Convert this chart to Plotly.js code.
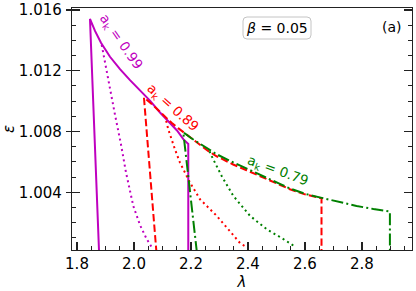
<!DOCTYPE html>
<html><head><meta charset="utf-8">
<script src="https://cdn.plot.ly/plotly-3.0.1.min.js"></script>
<style>html,body{margin:0;padding:0;background:#fff;} #chart{width:416px;height:291px;}</style>
</head><body><div id="chart"></div>
<script>
// ---- data ----
const magentaSolidLam = [1.8776, 1.8456, 1.8632, 1.8842, 1.9158, 1.9509, 1.9860, 2.0211, 2.0561, 2.0912, 2.1263, 2.1509, 2.1737, 2.1905, 2.1905];
const magentaSolidEps = [1.0000, 1.01541, 1.01462, 1.01384, 1.01292, 1.01210, 1.01138, 1.01069, 1.01003, 1.00925, 1.00859, 1.00807, 1.00748, 1.00718, 1.0000];
const magentaDotLam = [1.8867, 1.9098, 1.9333, 1.9544, 1.9719, 1.9975, 2.0211, 2.0446, 2.0621];
const magentaDotEps = [1.01370, 1.01130, 1.00911, 1.00715, 1.00531, 1.00310, 1.00184, 1.00092, 1.00038];

const redDashLam = [2.079, 2.035, 2.060, 2.085, 2.110, 2.132, 2.155, 2.179, 2.205, 2.232, 2.260, 2.290, 2.348, 2.395, 2.466, 2.512, 2.547, 2.600, 2.658, 2.658];
const redDashEps = [1.0000, 1.01023, 1.00985, 1.00940, 1.00895, 1.00857, 1.00822, 1.00788, 1.00750, 1.00712, 1.00672, 1.00637, 1.00583, 1.00545, 1.00489, 1.00450, 1.00420, 1.00386, 1.00360, 1.0000];
const redDotLam = [2.113, 2.1204, 2.1439, 2.1614, 2.1965, 2.2316, 2.2902, 2.3484, 2.3719, 2.3954];
const redDotEps = [1.00870, 1.00813, 1.00682, 1.00595, 1.00464, 1.00354, 1.00245, 1.00113, 1.00066, 1.00038];

const greenDashDotLam = [2.221, 2.173, 2.200, 2.232, 2.262, 2.290, 2.348, 2.395, 2.466, 2.512, 2.547, 2.600, 2.659, 2.720, 2.781, 2.840, 2.898, 2.898];
const greenDashDotEps = [1.0000, 1.00795, 1.00757, 1.00718, 1.00682, 1.00650, 1.00597, 1.00555, 1.00497, 1.00455, 1.00425, 1.00390, 1.00363, 1.00335, 1.00310, 1.00290, 1.00273, 1.0000];
const greenDotLam = [2.265, 2.2725, 2.3077, 2.3485, 2.407, 2.4656, 2.524, 2.559, 2.567];
const greenDotEps = [1.00670, 1.00638, 1.00507, 1.00376, 1.00245, 1.00157, 1.00092, 1.00048, 1.00040];

const xTickVals = [1.8, 2.0, 2.2, 2.4, 2.6, 2.8];
const xTickText = ['1.8', '2.0', '2.2', '2.4', '2.6', '2.8'];
const yTickVals = [1.004, 1.008, 1.012, 1.016];
const yTickText = ['1.004', '1.008', '1.012', '1.016'];
const curveLabels = ['a<sub>k</sub> = 0.99', 'a<sub>k</sub> = 0.89', 'a<sub>k</sub> = 0.79'];
const betaLabel = '<i>β</i> = 0.05';
const panelLabel = '(a)';

// ---- styling ----
const MAG = '#bf00bf', RED = '#ff0000', GRN = '#008000';
const FONT = 'DejaVu Sans, sans-serif';
const W = 416, H = 291, M = {l: 72, r: 4, t: 8, b: 41};
const PW = W - M.l - M.r, PH = H - M.t - M.b;
const xRange = [1.7825, 2.9755], yRange = [1.00020, 1.01613];

function line(x, y, color, dash) {
  return {x: x, y: y, type: 'scatter', mode: 'lines', hoverinfo: 'skip', showlegend: false,
          line: {color: color, width: 2, dash: dash}};
}
const DASH = '7.4px,3.2px', DASHDOT = '12px,3.2px,2px,3.2px', DOT = '2px,3.3px';

const traces = [
  line(magentaSolidLam, magentaSolidEps, MAG, 'solid'),
  line(magentaDotLam, magentaDotEps, MAG, DOT),
  line(redDashLam, redDashEps, RED, DASH),
  line(redDotLam, redDotEps, RED, DOT),
  line(greenDashDotLam, greenDashDotEps, GRN, DASHDOT),
  line(greenDotLam, greenDotEps, GRN, DOT),
  {x: [], y: [], yaxis: 'y2', type: 'scatter', mode: 'lines', showlegend: false, hoverinfo: 'skip'}
];

// rounded box for beta label (paper coords)
function px2paperX(p) { return (p - M.l) / PW; }
function px2paperY(p) { return (M.t + PH - p) / PH; }
const bx0 = px2paperX(243), bx1 = px2paperX(311), by0 = px2paperY(39), by1 = px2paperY(17);
const rx = 4 / PW, ry = 4 / PH;
const boxPath = `M ${bx0+rx},${by0} L ${bx1-rx},${by0} Q ${bx1},${by0} ${bx1},${by0+ry} L ${bx1},${by1-ry} Q ${bx1},${by1} ${bx1-rx},${by1} L ${bx0+rx},${by1} Q ${bx0},${by1} ${bx0},${by1-ry} L ${bx0},${by0+ry} Q ${bx0},${by0} ${bx0+rx},${by0} Z`;

const layout = {
  width: W, height: H, margin: M,
  paper_bgcolor: '#fff', plot_bgcolor: '#fff',
  font: {family: FONT, size: 15, color: '#000'},
  xaxis: {
    range: xRange, tickvals: xTickVals, ticktext: xTickText,
    ticks: 'inside', ticklen: 8, tickwidth: 1.2, tickcolor: '#222',
    minor: {ticks: 'inside', dtick: 0.05, tick0: 1.8, ticklen: 4, tickwidth: 1, tickcolor: '#222'},
    showline: true, linecolor: '#222', linewidth: 1.2, mirror: true,
    showgrid: false, zeroline: false, ticklabelstandoff: 0,
    tickfont: {family: FONT, size: 15},
    title: {text: '<i>λ</i>', font: {family: FONT, size: 15}, standoff: 5}
  },
  yaxis: {
    range: yRange, tickvals: yTickVals, ticktext: yTickText,
    ticks: 'inside', ticklen: 8, tickwidth: 1.2, tickcolor: '#222',
    minor: {ticks: 'inside', dtick: 0.001, tick0: 1.0, ticklen: 4, tickwidth: 1, tickcolor: '#222'},
    showline: true, linecolor: '#222', linewidth: 1.2, mirror: 'ticks',
    showgrid: false, zeroline: false, ticklabelstandoff: 6,
    tickfont: {family: FONT, size: 15},
    title: {text: '<i>ε</i>', font: {family: FONT, size: 15}, standoff: 4}
  },
  yaxis2: {
    overlaying: 'y', side: 'left', range: yRange, tickvals: yTickVals,
    ticks: 'outside', ticklen: 5, tickwidth: 1.2, tickcolor: '#222',
    showticklabels: false, showline: false, showgrid: false, zeroline: false
  },
  shapes: [
    {type: 'path', xref: 'paper', yref: 'paper', path: boxPath,
     fillcolor: '#fff', line: {color: '#c4c4c4', width: 1}, layer: 'above'}
  ],
  annotations: [
    {x: 1.9544, y: 1.01390, xref: 'x', yref: 'y', text: curveLabels[0], showarrow: false,
     textangle: 55, xanchor: 'center', yanchor: 'middle', font: {family: FONT, size: 13.5, color: MAG}},
    {x: 2.1368, y: 1.00957, xref: 'x', yref: 'y', text: curveLabels[1], showarrow: false,
     textangle: 42, xanchor: 'center', yanchor: 'middle', font: {family: FONT, size: 13.5, color: RED}},
    {x: 2.5053, y: 1.00540, xref: 'x', yref: 'y', text: curveLabels[2], showarrow: false,
     textangle: 20, xanchor: 'center', yanchor: 'middle', font: {family: FONT, size: 13.5, color: GRN}},
    {x: px2paperX(277), y: px2paperY(28), xref: 'paper', yref: 'paper', text: betaLabel, showarrow: false,
     xanchor: 'center', yanchor: 'middle', font: {family: FONT, size: 14, color: '#000'}},
    {x: px2paperX(392), y: px2paperY(27), xref: 'paper', yref: 'paper', text: panelLabel, showarrow: false,
     xanchor: 'center', yanchor: 'middle', font: {family: FONT, size: 14, color: '#000'}}
  ]
};

Plotly.newPlot('chart', traces, layout, {staticPlot: true, displayModeBar: false});
</script>
</body></html>
